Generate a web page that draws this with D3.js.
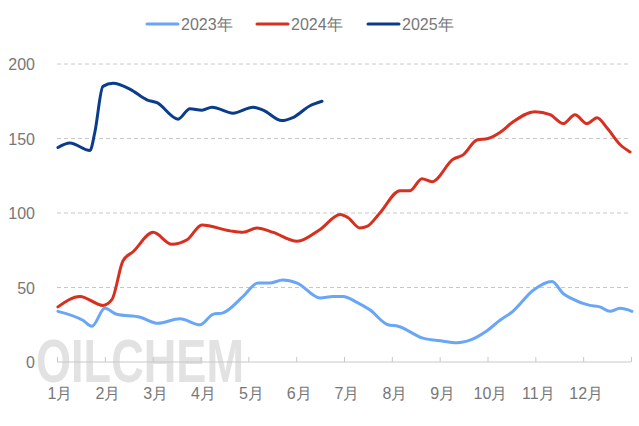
<!DOCTYPE html>
<html><head><meta charset="utf-8">
<script src="https://cdn.jsdelivr.net/npm/d3@7"></script>
<style>body{margin:0;background:#fff}text{font-family:"Liberation Sans",Arial,sans-serif}</style>
</head><body><div id="container"></div>
<script>
// month labels, x position in months from Jan start
const months = ["1月","2月","3月","4月","5月","6月","7月","8月","9月","10月","11月","12月"]
const yTicks = [0, 50, 100, 150, 200]

const x2023 = [0.02,0.54,0.73,1.0,1.25,1.74,2.11,2.57,2.99,3.26,3.47,3.89,4.2,4.45,4.72,5.02,5.5,5.77,5.98,6.27,6.54,6.92,7.13,7.65,8.07,8.36,8.57,8.99,9.26,9.53,9.95,10.35,10.58,10.73,11.14,11.35,11.56,11.77,12.02]
const v2023 = [34,28,24,36,32,30,26,29,25,32,33,44,53,53,55,53,43,44,44,40,35,25,24,16,14,13,14,21,28,34,48,54,46,43,38,37,34,36,34]

const x2024 = [0.02,0.48,0.96,1.15,1.38,1.59,2.01,2.4,2.72,3.03,3.62,3.89,4.18,4.52,5.02,5.5,5.92,6.08,6.33,6.48,6.75,7.17,7.38,7.63,7.84,8.28,8.49,8.78,9.01,9.26,9.53,9.99,10.31,10.58,10.83,11.08,11.29,11.5,11.77,11.98]
const v2024 = [37,44,38,42,68,74,87,79,82,92,88,87,90,87,81,89,99,97,90,91,100,115,115,123,121,136,139,149,150,154,161,168,166,160,166,160,164,157,146,141]

const x2025 = [0.02,0.27,0.69,0.79,0.96,1.17,1.53,1.88,2.09,2.53,2.78,3.03,3.24,3.68,4.1,4.31,4.7,4.93,5.29,5.54]
const v2025 = [144,147,142,154,185,187,183,176,174,163,170,169,171,167,171,169,162,164,172,175]

const series = [
  {name:"2023年", xs:x2023, vs:v2023, color:"#6aa6f8"},
  {name:"2024年", xs:x2024, vs:v2024, color:"#d7301f"},
  {name:"2025年", xs:x2025, vs:v2025, color:"#0b3c8c"}
]

const ancho = 639, alto = 426
const svg = d3.select("#container").append("svg").attr("width", ancho).attr("height", alto)

const xScale = d3.scaleLinear().domain([0, 12]).range([57, 631])
const yScale = d3.scaleLinear().domain([0, 200]).range([362, 64])

// watermark
svg.append("text").attr("x", 36).attr("y", 382).text("OILCHEM")
  .attr("font-size", 62).attr("font-weight", "bold").attr("fill", "#e2e2e2")
  .attr("textLength", 208).attr("lengthAdjust", "spacingAndGlyphs")

// grid
svg.selectAll(".grid").data(yTicks.filter(d => d > 0)).enter().append("line")
  .attr("x1", 57).attr("x2", 631)
  .attr("y1", d => yScale(d)).attr("y2", d => yScale(d))
  .attr("stroke", "#c8c8c8").attr("stroke-dasharray", "4,3")

// y labels
svg.selectAll(".ylab").data(yTicks).enter().append("text")
  .attr("x", 35).attr("y", d => yScale(d) + 6).attr("text-anchor", "end")
  .attr("font-size", 16).attr("fill", "#777").text(d => d)

// x axis
const xAxis = d3.axisBottom(xScale).tickValues(d3.range(0, 13)).tickSize(5).tickFormat("")
const gx = svg.append("g").attr("transform", "translate(0,362)").call(xAxis)
gx.select(".domain").attr("stroke", "#c8c8c8").attr("d", "M57,0H631")
gx.selectAll(".tick line").attr("stroke", "#c8c8c8").attr("y2", -5)
svg.selectAll(".xlab").data(months).enter().append("text")
  .attr("x", (d, i) => xScale(i) + 3).attr("y", 399).attr("text-anchor", "middle")
  .attr("font-size", 16).attr("fill", "#777").text(d => d)

// lines
const line = d3.line().x(d => xScale(d[0])).y(d => yScale(d[1])).curve(d3.curveMonotoneX)
series.forEach(s => {
  svg.append("path").datum(d3.zip(s.xs, s.vs)).attr("d", line)
    .attr("fill", "none").attr("stroke", s.color).attr("stroke-width", 3)
    .attr("stroke-linejoin", "round").attr("stroke-linecap", "round")
})

// legend
const legX = [147, 257, 368]
series.forEach((s, i) => {
  svg.append("line").attr("x1", legX[i]).attr("x2", legX[i] + 31).attr("y1", 24).attr("y2", 24)
    .attr("stroke", s.color).attr("stroke-width", 3).attr("stroke-linecap", "round")
  svg.append("text").attr("x", legX[i] + 34).attr("y", 30).attr("font-size", 16)
    .attr("fill", "#777").text(s.name)
})
</script></body></html>
